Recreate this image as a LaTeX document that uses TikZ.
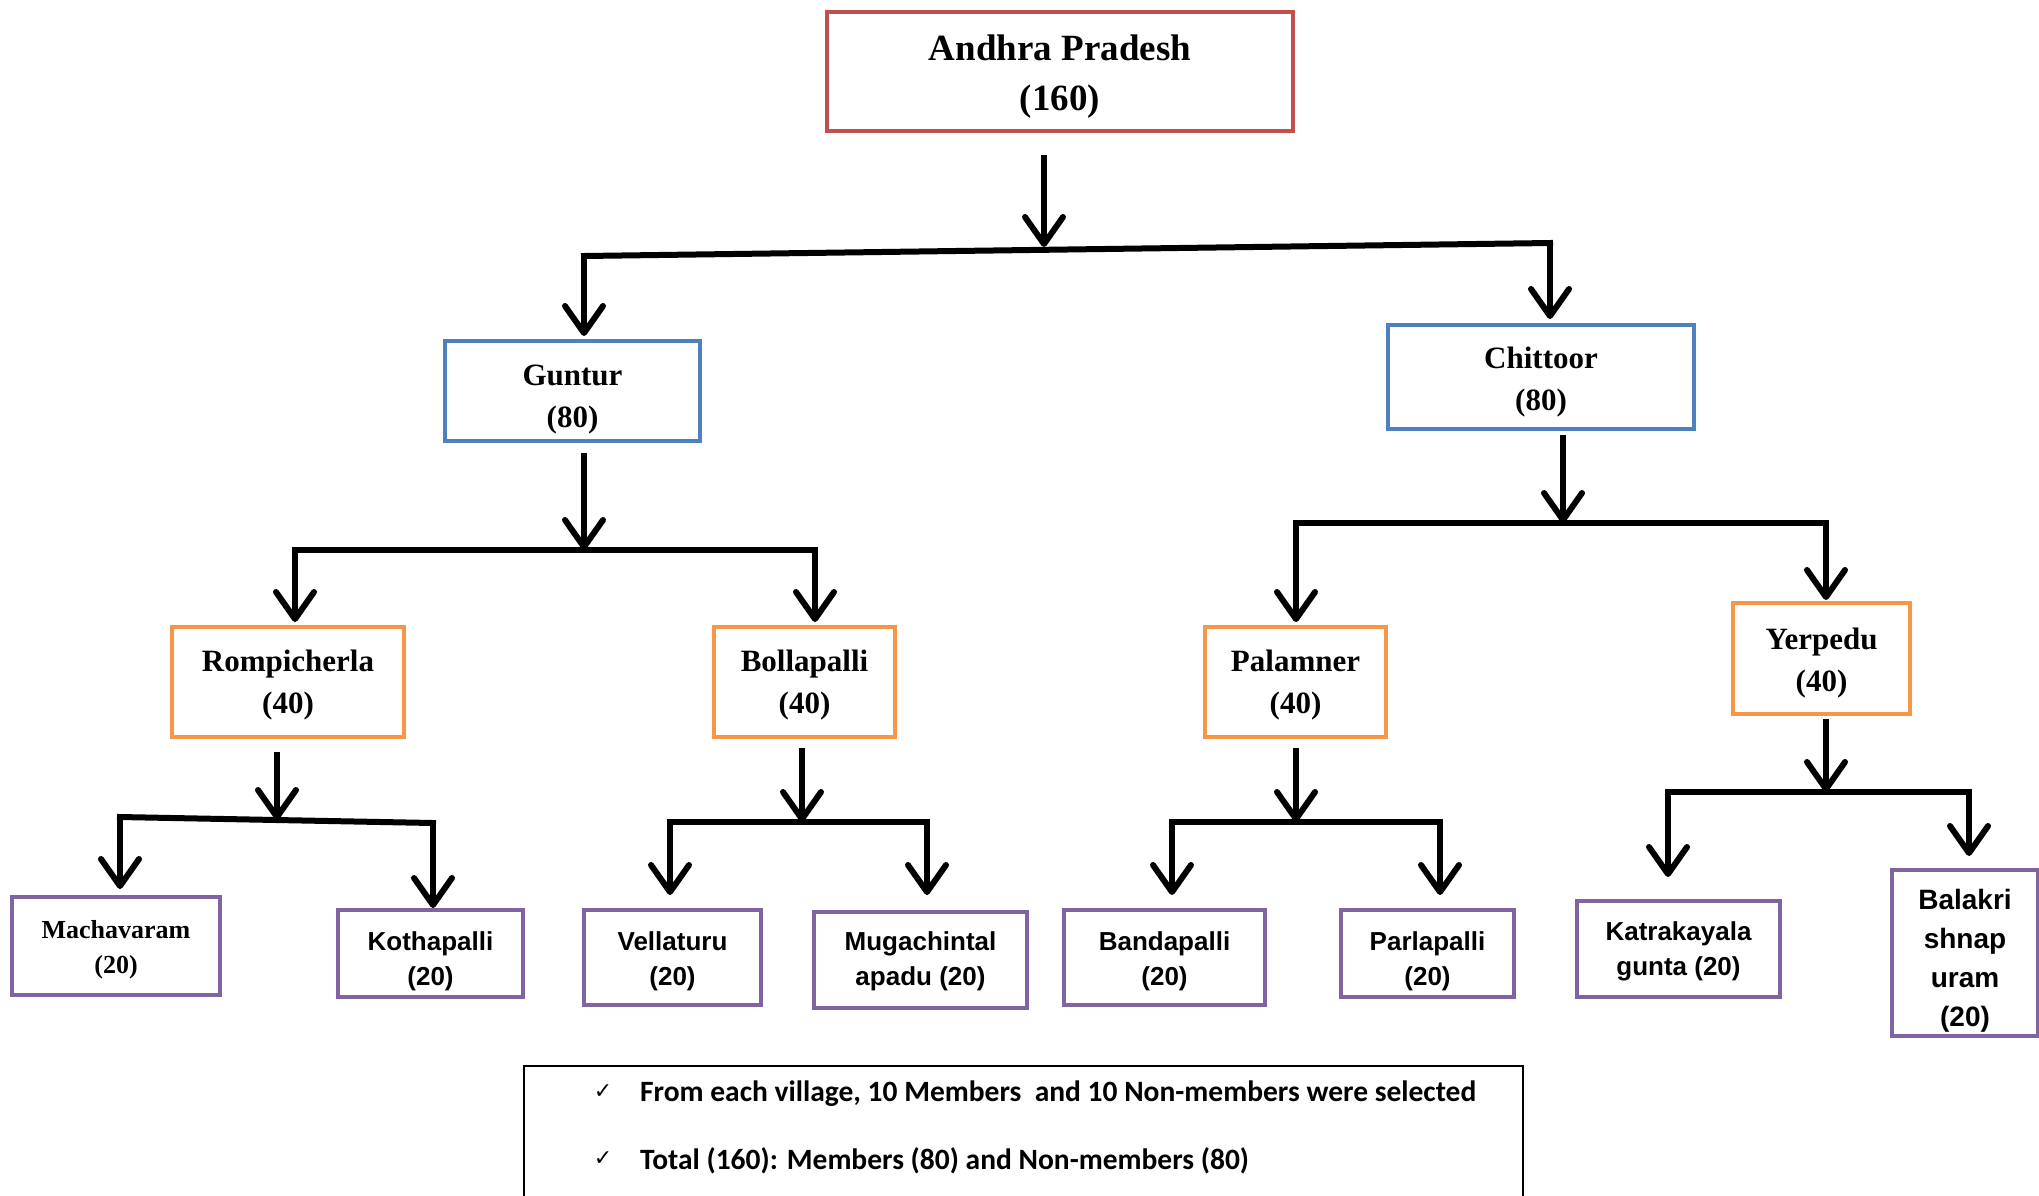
\documentclass[tikz,border=0pt]{standalone}
\usepackage{fontspec}
\setmainfont{Liberation Serif}
\newfontfamily\arialf{Liberation Sans}
\newfontfamily\calibrif{Carlito}
\newfontfamily\dejavuf{DejaVu Sans}
\usetikzlibrary{arrows.meta,positioning}
\definecolor{apred}{HTML}{C0504D}
\definecolor{distblue}{HTML}{4F81BD}
\definecolor{mandorange}{HTML}{F79646}
\definecolor{villpurple}{HTML}{8064A2}
% taller first line, so that the text sits a little lower in its box
\newcommand*\liftby[1]{\rule{0pt}{\dimexpr0.72em+#1\relax}}

\begin{document}
\begin{tikzpicture}[x = 1pt, y = -1pt,
  box/.style = {draw, line width = 4pt, fill = white, align = center, inner sep = 0pt},
  state/.style = {box, draw = apred, font = \bfseries\fontsize{37}{50}\selectfont},
  district/.style = {box, draw = distblue, font = \bfseries\fontsize{31}{42}\selectfont},
  mandal/.style = {box, draw = mandorange, font = \bfseries\fontsize{31}{42}\selectfont},
  village/.style = {box, draw = villpurple, font = \arialf\bfseries\fontsize{26}{35}\selectfont},
  bar/.style = {line width = 6pt, line cap = rect},
  arr/.style = {line width = 6pt, -{Straight Barb[length = 27pt, width = 38pt, round]}},
  notetext/.style = {font = \calibrif\bfseries\fontsize{29.5}{34}\selectfont, anchor = west, inner sep = 0pt},
  tick/.style = {font = \dejavuf\fontsize{22}{22}\selectfont, inner sep = 0pt}]
\useasboundingbox (0,0) rectangle (2039,1195);

% boxes
\node[state, minimum width = 466pt, minimum height = 119pt] (ap) at (1060,71.5) {\liftby{10pt}Andhra Pradesh\\(160)};
\node[district, minimum width = 255pt, minimum height = 100pt] (gun) at (572.5,391) {\liftby{16pt}Guntur\\(80)};
\node[district, minimum width = 306pt, minimum height = 104pt] (chi) at (1541,377) {\liftby{10pt}Chittoor\\(80)};
\node[mandal, minimum width = 232pt, minimum height = 110pt] (rom) at (288,682) {\liftby{6pt}Rompicherla\\(40)};
\node[mandal, minimum width = 181pt, minimum height = 110pt] (bol) at (804.5,682) {\liftby{6pt}Bollapalli\\(40)};
\node[mandal, minimum width = 181pt, minimum height = 110pt] (pal) at (1295.5,682) {\liftby{6pt}Palamner\\(40)};
\node[mandal, minimum width = 177pt, minimum height = 111pt] (yer) at (1821.5,658.5) {\liftby{8pt}Yerpedu\\(40)};
\node[village, font = \bfseries\fontsize{26}{35}\selectfont, minimum width = 208pt, minimum height = 98pt] (mac) at (116,946) {\liftby{6pt}Machavaram\\(20)};
\node[village, minimum width = 185pt, minimum height = 87pt] (kot) at (430.5,953.5) {\liftby{15pt}Kothapalli\\(20)};
\node[village, minimum width = 177pt, minimum height = 95pt] (vel) at (672.5,957.5) {\liftby{7pt}Vellaturu\\(20)};
\node[village, minimum width = 213pt, minimum height = 96pt] (mug) at (920.5,960) {\liftby{2pt}Mugachintal\\apadu (20)};
\node[village, minimum width = 201pt, minimum height = 95pt] (ban) at (1164.5,957.5) {\liftby{7pt}Bandapalli\\(20)};
\node[village, minimum width = 173pt, minimum height = 87pt] (par) at (1427.5,953.5) {\liftby{15pt}Parlapalli\\(20)};
\node[village, minimum width = 203pt, minimum height = 96pt] (kat) at (1678.5,949) {\liftby{5pt}Katrakayala\\gunta (20)};
\node[village, font = \arialf\bfseries\fontsize{28}{39}\selectfont, minimum width = 146pt, minimum height = 166pt] (bal) at (1965,953) {\liftby{15pt}Balakri\\shnap\\uram\\(20)};

% note at the bottom
\node[draw, line width = 2pt, minimum width = 999pt, minimum height = 200pt, anchor = north] (note) at (1023.5,1065) {};
\node[tick] (tick1) at (603,1092) {✓};
\node[tick] (tick2) at (603,1159) {✓};
\node[notetext] (line1) at (640,1094) {From each village, 10 Members\ \ and 10 Non-members were selected};
\node[notetext] (line2) at (640,1161) {Total (160): Members (80) and Non-members (80)};

% state to districts
\coordinate (apL) at (584,256);
\coordinate (apR) at (1550,243);
\coordinate (apM) at (1044,247);
\draw[bar] (apL) -- (apR);
\draw[arr] ([yshift = -22pt]ap.south -| apM) -- (apM);
\draw[arr, shorten > = 3pt] (apL) -- (apL |- gun.north);
\draw[arr, shorten > = 4pt] (apR) -- (apR |- chi.north);

% districts to mandals
\coordinate (gunL) at (295,550);
\coordinate (gunR) at (815,550);
\coordinate (gunM) at (584,550);
\draw[bar] (gunL) -- (gunR);
\draw[arr] ([yshift = -10pt]gun.south -| gunM) -- (gunM);
\draw[arr, shorten > = 3pt] (gunL) -- (gunL |- rom.north);
\draw[arr, shorten > = 3pt] (gunR) -- (gunR |- bol.north);

\coordinate (chiL) at (1296,523);
\coordinate (chiR) at (1826,523);
\coordinate (chiM) at (1563,523);
\draw[bar] (chiL) -- (chiR);
\draw[arr] ([yshift = -4pt]chi.south -| chiM) -- (chiM);
\draw[arr, shorten > = 3pt] (chiL) -- (chiL |- pal.north);
\draw[arr, shorten > = 1pt] (chiR) -- (chiR |- yer.north);

% mandals to villages
\coordinate (romL) at (120,817);
\coordinate (romR) at (433,823);
\coordinate (romM) at (277,820);
\draw[bar] (romL) -- (romR);
\draw[arr] ([yshift = -13pt]rom.south -| romM) -- (romM);
\draw[arr, shorten > = 6pt] (romL) -- (romL |- mac.north);
\draw[arr] (romR) -- (romR |- kot.north);

\coordinate (bolL) at (670,822);
\coordinate (bolR) at (927,822);
\coordinate (bolM) at (802,822);
\draw[bar] (bolL) -- (bolR);
\draw[arr] ([yshift = -9pt]bol.south -| bolM) -- (bolM);
\draw[arr, shorten > = 13pt] (bolL) -- (bolL |- vel.north);
\draw[arr, shorten > = 15pt] (bolR) -- (bolR |- mug.north);

\coordinate (palL) at (1172,822);
\coordinate (palR) at (1440,822);
\coordinate (palM) at (1296,822);
\draw[bar] (palL) -- (palR);
\draw[arr] ([yshift = -9pt]pal.south -| palM) -- (palM);
\draw[arr, shorten > = 13pt] (palL) -- (palL |- ban.north);
\draw[arr, shorten > = 13pt] (palR) -- (palR |- par.north);

\coordinate (yerL) at (1668,792);
\coordinate (yerR) at (1969,792);
\coordinate (yerM) at (1826,792);
\draw[bar] (yerL) -- (yerR);
\draw[arr] ([yshift = -3pt]yer.south -| yerM) -- (yerM);
\draw[arr, shorten > = 22pt] (yerL) -- (yerL |- kat.north);
\draw[arr, shorten > = 12pt] (yerR) -- (yerR |- bal.north);
\end{tikzpicture}
\end{document}
